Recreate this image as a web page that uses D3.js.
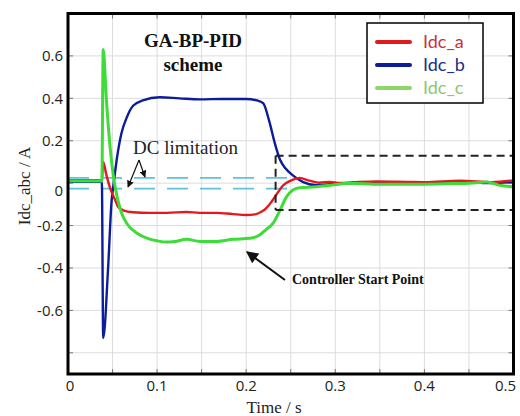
<!DOCTYPE html>
<html>
<head>
<meta charset="utf-8">
<script src="https://cdn.jsdelivr.net/npm/d3@7"></script>
<style>
  html, body { margin: 0; padding: 0; background: #fff; }
  svg { display: block; }
</style>
</head>
<body>
<svg id="chart" width="520" height="416"></svg>
<script>
// DC current of the three legs, time in seconds, current in amperes
const idcA = [[0,0.014],[0.038,0.014],[0.0395,0.1],[0.043,0.04],[0.047,-0.02],[0.053,-0.08],[0.056,-0.11],[0.062,-0.128],[0.073,-0.137],[0.092,-0.14],[0.111,-0.14],[0.133,-0.136],[0.148,-0.14],[0.167,-0.14],[0.185,-0.146],[0.2,-0.15],[0.21,-0.147],[0.217,-0.135],[0.222,-0.12],[0.228,-0.09],[0.235,-0.047],[0.241,-0.012],[0.25,0.012],[0.26,0.024],[0.271,0.012],[0.282,0.002],[0.294,0.006],[0.305,0.001],[0.32,0.004],[0.347,0.008],[0.38,0.006],[0.4,0.005],[0.44,0.012],[0.476,0.005],[0.5,0.013]];
const idcB = [[0,0.006],[0.038,0.006],[0.0395,-0.73],[0.045,-0.40],[0.049,-0.08],[0.051,-0.01],[0.055,0.12],[0.06,0.235],[0.066,0.31],[0.073,0.365],[0.084,0.39],[0.103,0.405],[0.125,0.40],[0.148,0.395],[0.173,0.397],[0.2,0.397],[0.212,0.39],[0.219,0.377],[0.226,0.29],[0.232,0.19],[0.238,0.11],[0.244,0.07],[0.252,0.038],[0.264,0.005],[0.279,-0.01],[0.294,-0.005],[0.32,0.0],[0.35,0.004],[0.4,0.0],[0.45,0.005],[0.47,0.0],[0.5,0.005]];
const idcC = [[0,0.01],[0.038,0.01],[0.0395,0.63],[0.043,0.40],[0.047,0.18],[0.051,0.03],[0.056,-0.08],[0.060,-0.14],[0.066,-0.19],[0.077,-0.235],[0.09,-0.262],[0.1,-0.272],[0.11,-0.278],[0.12,-0.275],[0.133,-0.265],[0.148,-0.275],[0.167,-0.275],[0.185,-0.265],[0.204,-0.26],[0.215,-0.245],[0.222,-0.22],[0.23,-0.19],[0.238,-0.127],[0.245,-0.066],[0.252,-0.033],[0.26,-0.022],[0.279,-0.017],[0.294,-0.01],[0.316,0],[0.35,-0.005],[0.4,-0.005],[0.43,-0.002],[0.45,0.0],[0.47,0.005],[0.485,-0.01],[0.5,-0.018]];

const seriesNames = ["Idc_a", "Idc_b", "Idc_c"];
const xTicks = [0, 0.1, 0.2, 0.3, 0.4, 0.5];
const xGrid = [0.05, 0.1, 0.15, 0.2, 0.25, 0.3, 0.35, 0.4, 0.45];
const yTicks = [-0.6, -0.4, -0.2, 0, 0.2, 0.4, 0.6];
const yGrid = [-0.8, -0.6, -0.4, -0.2, 0, 0.2, 0.4, 0.6];
const dcLimits = [0.025, -0.026];
const controllerStart = 0.233;
const windowBounds = [0.129, -0.127];

const svg = d3.select("#chart");
const L = 68, R = 513.5, T = 13.5, B = 374;
const x = d3.scaleLinear().domain([0, 0.5]).range([L, R]);
const y = d3.scaleLinear().domain([-0.9, 0.8]).range([B, T]);

const colors = { "Idc_a": "#e3191c", "Idc_b": "#0c1c9a", "Idc_c": "#3edc38" };
const legendLine = { "Idc_a": "#e3191c", "Idc_b": "#0c1c9a", "Idc_c": "#8ed46a" };
const legendText = { "Idc_a": "#c8323a", "Idc_b": "#1c2c8c", "Idc_c": "#8dc96b" };

const defs = svg.append("defs");
defs.append("marker").attr("id", "arrow").attr("viewBox", "0 0 10 10")
  .attr("refX", 9).attr("refY", 5).attr("markerWidth", 7).attr("markerHeight", 7)
  .attr("markerUnits", "userSpaceOnUse").attr("orient", "auto")
  .append("path").attr("d", "M0,0 L10,5 L0,10 z").attr("fill", "#111");
defs.append("marker").attr("id", "arrowBig").attr("viewBox", "0 0 10 10")
  .attr("refX", 9).attr("refY", 5).attr("markerWidth", 13).attr("markerHeight", 12)
  .attr("markerUnits", "userSpaceOnUse").attr("orient", "auto")
  .append("path").attr("d", "M0,0 L10,5 L0,10 z").attr("fill", "#111");

// grid
const grid = svg.append("g").attr("stroke", "#dcdcdc").attr("stroke-width", 1);
grid.selectAll(".gx").data(xGrid).join("line")
  .attr("x1", d => x(d)).attr("x2", d => x(d)).attr("y1", T).attr("y2", B);
grid.selectAll(".gy").data(yGrid).join("line")
  .attr("x1", L).attr("x2", R).attr("y1", d => y(d)).attr("y2", d => y(d));

// inward ticks on all sides
const tk = svg.append("g").attr("stroke", "#777").attr("stroke-width", 1);
xGrid.forEach(d => {
  tk.append("line").attr("x1", x(d)).attr("x2", x(d)).attr("y1", B).attr("y2", B - 5);
  tk.append("line").attr("x1", x(d)).attr("x2", x(d)).attr("y1", T).attr("y2", T + 5);
});
yGrid.forEach(d => {
  tk.append("line").attr("x1", L).attr("x2", L + 5).attr("y1", y(d)).attr("y2", y(d));
  tk.append("line").attr("x1", R).attr("x2", R - 5).attr("y1", y(d)).attr("y2", y(d));
});

// DC limitation band
svg.append("g").selectAll("line").data(dcLimits).join("line")
  .attr("x1", L).attr("x2", x(0.25)).attr("y1", d => y(d)).attr("y2", d => y(d))
  .attr("stroke", "#5ec4dc").attr("stroke-width", 1.6).attr("stroke-dasharray", "21,12");

// curves
const line = d3.line().x(d => x(d[0])).y(d => y(d[1])).curve(d3.curveMonotoneX);
const data = { "Idc_a": idcA, "Idc_b": idcB, "Idc_c": idcC };
const widths = { "Idc_a": 2.4, "Idc_b": 2.4, "Idc_c": 3 };
["Idc_b", "Idc_a", "Idc_c"].forEach(n => {
  svg.append("path").datum(data[n]).attr("d", line)
    .attr("fill", "none").attr("stroke", colors[n]).attr("stroke-width", widths[n])
    .attr("stroke-linejoin", "round");
});

// post-controller window
const win = svg.append("g").attr("stroke", "#222").attr("stroke-width", 2).attr("stroke-dasharray", "8,5").attr("fill", "none");
win.append("line").attr("x1", x(controllerStart)).attr("x2", R).attr("y1", y(windowBounds[0])).attr("y2", y(windowBounds[0]));
win.append("line").attr("x1", x(controllerStart)).attr("x2", R).attr("y1", y(windowBounds[1])).attr("y2", y(windowBounds[1]));
win.append("line").attr("x1", x(controllerStart)).attr("x2", x(controllerStart)).attr("y1", y(windowBounds[0])).attr("y2", y(windowBounds[1]));

// frame
svg.append("rect").attr("x", L).attr("y", T).attr("width", R - L).attr("height", B - T)
  .attr("fill", "none").attr("stroke", "#000").attr("stroke-width", 3);

// tick labels (plain hyphen for negatives)
const fmt = d => d === 0 ? "0" : d3.format(".1f")(d).replace("\u2212", "-");
const tickFont = "'Open Sans', sans-serif";
svg.append("g").selectAll("text").data(xTicks).join("text")
  .attr("x", d => x(d) + (d === 0 ? 2 : d === 0.5 ? -8 : 0)).attr("y", 391)
  .attr("text-anchor", "middle").attr("font-family", tickFont).attr("font-size", 15).attr("fill", "#222")
  .text(fmt);
svg.append("g").selectAll("text").data(yTicks).join("text")
  .attr("x", 63).attr("y", d => y(d) + (d === 0 ? 8 : 0)).attr("dy", "0.35em")
  .attr("text-anchor", "end").attr("font-family", tickFont).attr("font-size", 15).attr("fill", "#222")
  .text(fmt);

// axis titles
const serif = "'Liberation Serif', 'Times New Roman', serif";
svg.append("text").attr("x", 274).attr("y", 413).attr("text-anchor", "middle")
  .attr("font-family", serif).attr("font-size", 17).attr("fill", "#222").text("Time / s");
svg.append("text").attr("transform", "translate(30,186) rotate(-90)").attr("text-anchor", "middle")
  .attr("font-family", serif).attr("font-size", 17).attr("fill", "#222").text("Idc_abc / A");

// scheme title
svg.append("text").attr("x", 193).attr("y", 47).attr("text-anchor", "middle")
  .attr("font-family", serif).attr("font-weight", "bold").attr("font-size", 19).attr("fill", "#111").text("GA-BP-PID");
svg.append("text").attr("x", 193).attr("y", 71).attr("text-anchor", "middle")
  .attr("font-family", serif).attr("font-weight", "bold").attr("font-size", 19).attr("fill", "#111").text("scheme");

// DC limitation annotation
svg.append("text").attr("x", 133).attr("y", 154)
  .attr("font-family", serif).attr("font-size", 19).attr("fill", "#222").text("DC limitation");
svg.append("line").attr("x1", 139).attr("y1", 160).attr("x2", 128).attr("y2", 187)
  .attr("stroke", "#111").attr("stroke-width", 1.2).attr("marker-end", "url(#arrow)");
svg.append("line").attr("x1", 139).attr("y1", 160).attr("x2", 145).attr("y2", 177)
  .attr("stroke", "#111").attr("stroke-width", 1.2).attr("marker-end", "url(#arrow)");

// controller start annotation
svg.append("line").attr("x1", 285).attr("y1", 280).attr("x2", 247).attr("y2", 252)
  .attr("stroke", "#111").attr("stroke-width", 2).attr("marker-end", "url(#arrowBig)");
svg.append("text").attr("x", 292).attr("y", 284)
  .attr("font-family", serif).attr("font-weight", "bold").attr("font-size", 14).attr("fill", "#111").text("Controller Start Point");

// legend
const lg = svg.append("g");
lg.append("rect").attr("x", 367).attr("y", 23).attr("width", 116).attr("height", 80)
  .attr("fill", "#fff").attr("stroke", "#000").attr("stroke-width", 1.5);
seriesNames.forEach((n, i) => {
  const yy = 42 + i * 23;
  lg.append("line").attr("x1", 377).attr("x2", 410).attr("y1", yy).attr("y2", yy)
    .attr("stroke", legendLine[n]).attr("stroke-width", 4).attr("stroke-linecap", "round");
  lg.append("text").attr("x", 423).attr("y", yy + 6)
    .attr("font-family", "Lato, 'Open Sans', sans-serif").attr("font-size", 18).attr("fill", legendText[n]).text(n);
});
</script>
</body>
</html>
